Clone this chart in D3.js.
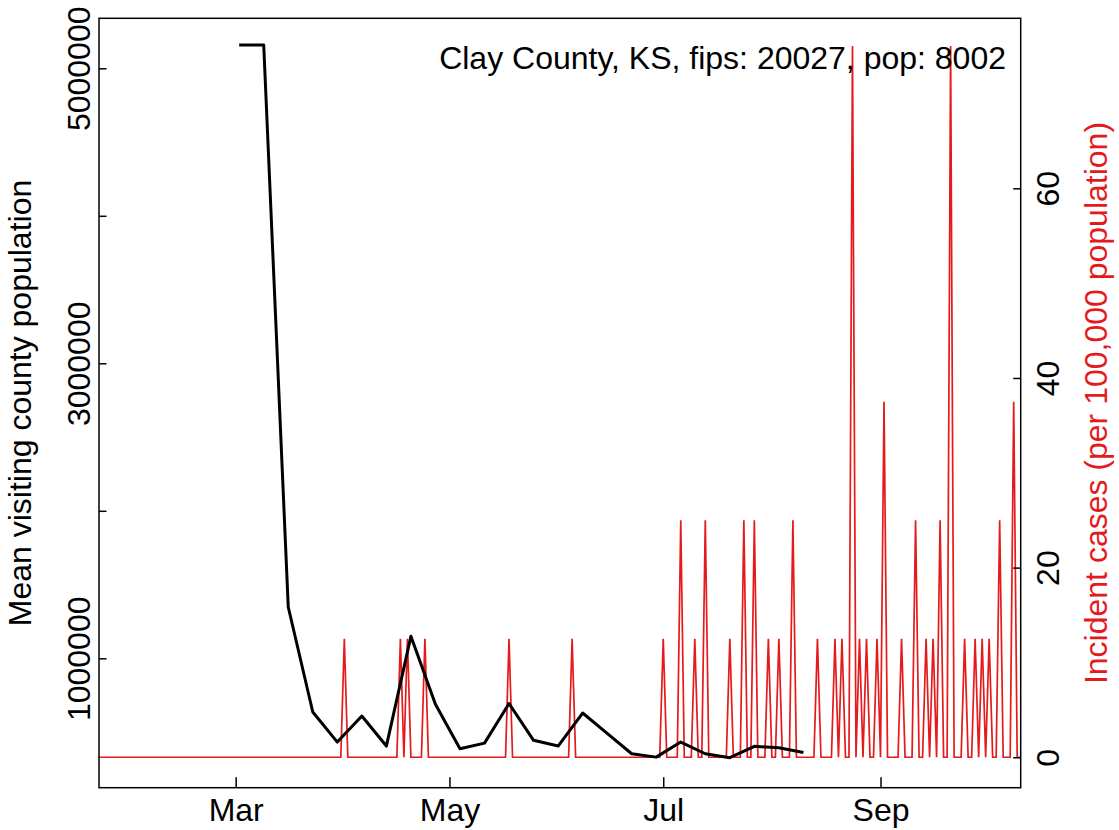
<!DOCTYPE html>
<html>
<head>
<meta charset="utf-8">
<script src="https://cdn.jsdelivr.net/npm/d3@7"></script>
<style>
  html, body { margin: 0; padding: 0; background: #fff; }
  svg { display: block; }
  text { font-family: "Liberation Sans", Arial, Helvetica, sans-serif; }
</style>
</head>
<body>
<svg id="chart" width="1119" height="830"></svg>
<script>
// ---------------- data ----------------
const titleText = "Clay County, KS, fips: 20027, pop: 8002";
const leftLabel = "Mean visiting county population";
const rightLabel = "Incident cases (per 100,000 population)";

// weekly mean visiting county population (black line)
const visitDates = ["2020-03-02","2020-03-09","2020-03-16","2020-03-23","2020-03-30","2020-04-06",
  "2020-04-13","2020-04-20","2020-04-27","2020-05-04","2020-05-11","2020-05-18","2020-05-25",
  "2020-06-01","2020-06-08","2020-06-15","2020-06-22","2020-06-29","2020-07-06","2020-07-13",
  "2020-07-20","2020-07-27","2020-08-03","2020-08-10"];
const visitValues = [5158000, 5158000, 1348000, 636000, 432000, 609000,
  405000, 1149000, 688000, 387000, 425000, 693000, 444000,
  405000, 629000, 491000, 353000, 330000, 432000, 353000,
  326000, 403000, 394000, 362000];

// daily incident cases per 100,000 (red line): days not listed are 0
const caseStart = "2020-01-22";
const caseEnd = "2020-10-11";
const caseDates = ["2020-04-01","2020-04-17","2020-04-19","2020-04-24","2020-05-18","2020-06-05",
  "2020-07-01","2020-07-06","2020-07-10","2020-07-13","2020-07-20","2020-07-24","2020-07-27",
  "2020-07-31","2020-08-03","2020-08-07","2020-08-14","2020-08-19","2020-08-21","2020-08-24",
  "2020-08-26","2020-08-28","2020-08-31","2020-09-02","2020-09-07","2020-09-11","2020-09-14",
  "2020-09-16","2020-09-18","2020-09-21","2020-09-25","2020-09-28","2020-09-30","2020-10-02",
  "2020-10-05","2020-10-09"];
const caseValues = [12.5, 12.5, 12.5, 12.5, 12.5, 12.5,
  12.5, 25, 12.5, 25, 12.5, 25, 25,
  12.5, 12.5, 25, 12.5, 12.5, 12.5, 75,
  12.5, 12.5, 12.5, 37.5, 12.5, 25, 12.5,
  12.5, 25, 75, 12.5, 12.5, 12.5, 12.5,
  25, 37.5];

const leftTicks = [1000000, 2000000, 3000000, 4000000, 5000000];
const leftTickLabels = ["1000000", "", "3000000", "", "5000000"];
const rightTicks = [0, 20, 40, 60];
const rightTickLabels = ["0", "20", "40", "60"];
const xTickDates = ["2020-03-01", "2020-05-01", "2020-07-01", "2020-09-01"];
const xTickLabels = ["Mar", "May", "Jul", "Sep"];

// ---------------- layout ----------------
const parse = d3.utcParse("%Y-%m-%d");
const plot = { left: 99, right: 1020.7, top: 18.3, bottom: 787.7 };
const FS = 32;
const RED = "#e41a1c";

const svg = d3.select("#chart");

const x = d3.scaleUtc()
  .domain([parse(caseStart), parse(caseEnd)])
  .range([plot.left, plot.right]);
const yL = d3.scaleLinear().domain([122700, 5339000]).range([plot.bottom, plot.top]);
const yR = d3.scaleLinear().domain([-3.21, 77.93]).range([plot.bottom, plot.top]);

// build daily case table
const caseMap = new Map(caseDates.map((d, i) => [d, caseValues[i]]));
const fmt = d3.utcFormat("%Y-%m-%d");
const days = d3.utcDay.range(parse(caseStart), d3.utcDay.offset(parse(caseEnd), 1));
const caseSeries = days.map(d => ({ date: d, value: caseMap.has(fmt(d)) ? caseMap.get(fmt(d)) : 0 }));
const visitSeries = visitDates.map((d, i) => ({ date: parse(d), value: visitValues[i] }));

svg.append("clipPath").attr("id", "clip")
  .append("rect")
  .attr("x", plot.left).attr("y", plot.top)
  .attr("width", plot.right - plot.left).attr("height", plot.bottom - plot.top);

const g = svg.append("g").attr("clip-path", "url(#clip)");

// red line
g.append("path")
  .datum(caseSeries)
  .attr("fill", "none")
  .attr("stroke", RED)
  .attr("stroke-width", 1.7)
  .attr("stroke-linejoin", "miter")
  .attr("d", d3.line().x(d => x(d.date)).y(d => yR(d.value)));

// black line
g.append("path")
  .datum(visitSeries)
  .attr("fill", "none")
  .attr("stroke", "#000")
  .attr("stroke-width", 3)
  .attr("stroke-linejoin", "round")
  .attr("d", d3.line().x(d => x(d.date)).y(d => yL(d.value)));

// frame
svg.append("rect")
  .attr("x", plot.left).attr("y", plot.top)
  .attr("width", plot.right - plot.left).attr("height", plot.bottom - plot.top)
  .attr("fill", "none").attr("stroke", "#000").attr("stroke-width", 1.5);

// left axis
const axL = svg.append("g")
  .attr("transform", `translate(${plot.left},0)`)
  .call(d3.axisLeft(yL).tickValues(leftTicks)
    .tickFormat((d, i) => leftTickLabels[i]).tickSize(-7.5).tickPadding(0));
axL.select(".domain").remove();
axL.selectAll(".tick line").attr("stroke", "#000").attr("stroke-width", 1.5);
axL.selectAll(".tick text")
  .attr("x", null).attr("dy", null)
  .attr("transform", "translate(-9.5,0) rotate(-90)")
  .attr("text-anchor", "middle")
  .attr("font-size", FS).attr("fill", "#000");

// right axis
const axR = svg.append("g")
  .attr("transform", `translate(${plot.right},0)`)
  .call(d3.axisRight(yR).tickValues(rightTicks)
    .tickFormat((d, i) => rightTickLabels[i]).tickSize(-7.5).tickPadding(0));
axR.select(".domain").remove();
axR.selectAll(".tick line").attr("stroke", "#000").attr("stroke-width", 1.5);
axR.selectAll(".tick text")
  .attr("x", null).attr("dy", null)
  .attr("transform", "translate(38,0) rotate(-90)")
  .attr("text-anchor", "middle")
  .attr("font-size", FS).attr("fill", "#000");

// bottom axis
const axB = svg.append("g")
  .attr("transform", `translate(0,${plot.bottom})`)
  .call(d3.axisBottom(x).tickValues(xTickDates.map(parse))
    .tickFormat((d, i) => xTickLabels[i]).tickSize(-10.5).tickPadding(0));
axB.select(".domain").remove();
axB.selectAll(".tick line").attr("stroke", "#000").attr("stroke-width", 1.5);
axB.selectAll(".tick text")
  .attr("y", 33).attr("dy", null)
  .attr("font-size", FS).attr("fill", "#000");

// axis titles
svg.append("text")
  .attr("transform", `translate(31,${(plot.top + plot.bottom) / 2}) rotate(-90)`)
  .attr("text-anchor", "middle")
  .attr("font-size", FS).attr("fill", "#000")
  .text(leftLabel);

svg.append("text")
  .attr("transform", `translate(1107,${(plot.top + plot.bottom) / 2}) rotate(-90)`)
  .attr("text-anchor", "middle")
  .attr("font-size", FS).attr("fill", RED)
  .text(rightLabel);

// title inside plot
svg.append("text")
  .attr("x", 1006).attr("y", 68.5)
  .attr("text-anchor", "end")
  .attr("font-size", FS).attr("fill", "#000")
  .text(titleText);
</script>
</body>
</html>
